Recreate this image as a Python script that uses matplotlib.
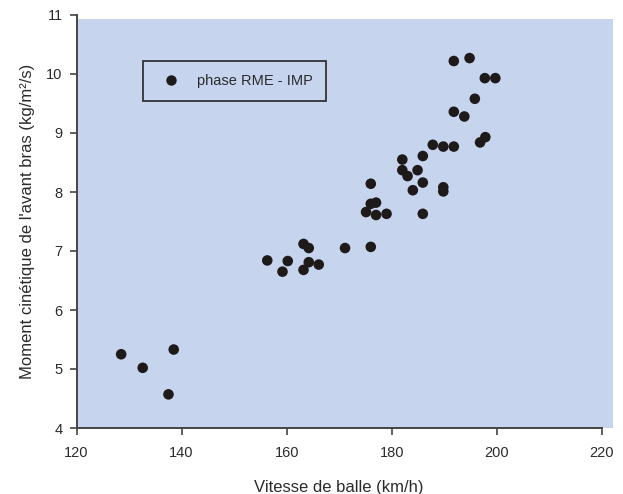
import matplotlib
matplotlib.use("Agg")
import matplotlib.pyplot as plt
from matplotlib.patches import Rectangle
from matplotlib.lines import Line2D

plt.rcParams['font.family'] = ['Liberation Sans', 'DejaVu Sans']

vitesse = [128.5, 132.6, 137.5, 138.5, 156.3, 159.2, 160.2, 163.2, 164.2, 164.2,
           163.2, 166.1, 171.1, 176.0, 176.0, 176.0, 177.0, 175.1, 177.0, 179.0,
           185.9, 182.0, 182.0, 183.0, 184.9, 185.9, 185.9, 184.0, 189.8, 189.8,
           187.8, 189.8, 191.8, 191.8, 193.8, 195.8, 197.7, 199.7, 191.8, 194.8,
           197.8, 196.8]
moment = [5.25, 5.02, 4.57, 5.33, 6.84, 6.65, 6.83, 7.12, 7.05, 6.81,
          6.68, 6.77, 7.05, 7.07, 8.14, 7.80, 7.82, 7.66, 7.61, 7.63,
          7.63, 8.55, 8.37, 8.27, 8.37, 8.61, 8.16, 8.03, 8.08, 8.01,
          8.80, 8.77, 8.77, 9.36, 9.28, 9.58, 9.93, 9.93, 10.22, 10.27,
          8.93, 8.84]
x_ticks = [120, 140, 160, 180, 200, 220]
y_ticks = [4, 5, 6, 7, 8, 9, 10, 11]
series_name = "phase RME - IMP"

bg = '#C7D4EE'
dark = '#2b2b2b'

fig = plt.figure(figsize=(6.23, 4.94), dpi=100)
ax = fig.add_axes([76.5/623, 66/494, 525.5/623, 413/494])
ax.set_facecolor('none')

ax.add_patch(Rectangle((0.003, 0), 1.018, 0.99, transform=ax.transAxes,
                       facecolor=bg, edgecolor='none', clip_on=False, zorder=0))

ax.scatter(vitesse, moment, s=58, color='#1e1a1a', edgecolors='none', zorder=3)

ax.set_xlim(120, 220)
ax.set_ylim(4, 11)
ax.set_xticks(x_ticks)
ax.set_yticks(y_ticks)
for s in ['top', 'right']:
    ax.spines[s].set_visible(False)
for s in ['left', 'bottom']:
    ax.spines[s].set_color('#444444')
    ax.spines[s].set_linewidth(1.4)
ax.tick_params(direction='out', length=5, width=1.2, color='#444444',
               labelsize=10.5, labelcolor=dark)
ax.tick_params(axis='x', pad=8)
ax.tick_params(axis='y', pad=5)

ax.set_xlabel("Vitesse de balle (km/h)", fontsize=12, color=dark, labelpad=14)
ax.set_ylabel("Moment cinétique de l'avant bras (kg/m²/s)", fontsize=12,
              color=dark, labelpad=8)

handle = Line2D([], [], marker='o', linestyle='none', markersize=7.5,
                color='#1e1a1a', markeredgewidth=0)
leg = ax.legend([handle], [series_name], loc='upper left',
                bbox_to_anchor=(0.1265, 0.889), borderaxespad=0,
                fontsize=10.5, frameon=True, fancybox=False,
                handletextpad=0.8, borderpad=0.9, handlelength=2.0,
                labelspacing=0)
leg.get_frame().set_facecolor(bg)
leg.get_frame().set_edgecolor('#333333')
leg.get_frame().set_linewidth(1.3)
leg.get_frame().set_alpha(1)
for t in leg.get_texts():
    t.set_color(dark)

fig.savefig("out.png", dpi=100)
